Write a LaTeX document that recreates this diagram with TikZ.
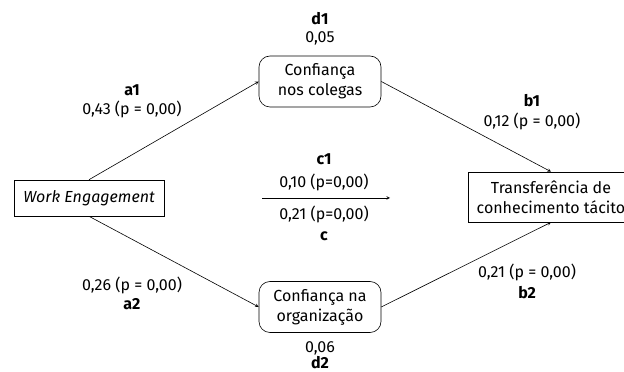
\documentclass[tikz,border=0pt]{standalone}
\usepackage{fontspec}
\setmainfont{Fira Sans}
\usepackage{tikz}
\usetikzlibrary{arrows}

\tikzset{
  sqbox/.style={draw, semithick, align=center, inner sep=0pt},
  rbox/.style={draw, semithick, rounded corners=11pt, align=center, inner sep=0pt,
    minimum width=122pt, minimum height=51pt},
  lab/.style={align=center, inner sep=0pt},
  path/.style={->, >=stealth, semithick}
}

\begin{document}
\begin{tikzpicture}[x=1pt, y=1pt, font=\fontsize{16}{20}\selectfont]
  \useasboundingbox (0,0) rectangle (624,372) ;
  %
  \node[sqbox, minimum width=150pt, minimum height=36pt] (we) at (89,174) {\itshape Work Engagement} ;
  \node[rbox] (col) at (320,290.5) {Confiança\\nos colegas} ;
  \node[rbox] (org) at (320,65) {Confiança na\\organização} ;
  \node[sqbox, minimum width=166pt, minimum height=50pt] (tr) at (551,175) {Transferência de\\conhecimento tácito} ;
  %
  \draw[path] (we.north) -- (col.west) ;
  \draw[path] (we.south) -- (org.west) ;
  \draw[path] (col.east) -- (tr.north) ;
  \draw[path] (org.east) -- (tr.south) ;
  %
  \coordinate (cs) at (262,174) ;
  \coordinate (ce) at (390,174) ;
  \draw[path] (cs) -- (ce) ;
  %
  \node[lab] (d1) at (320,353) {\textbf{d1}} ;
  \node[lab] (d1v) at (320,334) {0,05} ;
  \node[lab] (a1) at (132,282) {\textbf{a1}} ;
  \node[lab] (a1v) at (132,263) {0,43 (p = 0,00)} ;
  \node[lab] (b1) at (532,271) {\textbf{b1}} ;
  \node[lab] (b1v) at (532,251) {0,12 (p = 0,00)} ;
  \node[lab] (c1) at (324,213) {\textbf{c1}} ;
  \node[lab] (c1v) at (324,190) {0,10 (p=0,00)} ;
  \node[lab] (cv) at (324,158) {0,21 (p=0,00)} ;
  \node[lab] (c) at (324,136) {\textbf{c}} ;
  \node[lab] (a2v) at (132,87) {0,26 (p = 0,00)} ;
  \node[lab] (a2) at (132,68) {\textbf{a2}} ;
  \node[lab] (b2v) at (527,100) {0,21 (p = 0,00)} ;
  \node[lab] (b2) at (527,79) {\textbf{b2}} ;
  \node[lab] (d2v) at (320,24) {0,06} ;
  \node[lab] (d2) at (320,9.5) {\textbf{d2}} ;
\end{tikzpicture}
\end{document}
